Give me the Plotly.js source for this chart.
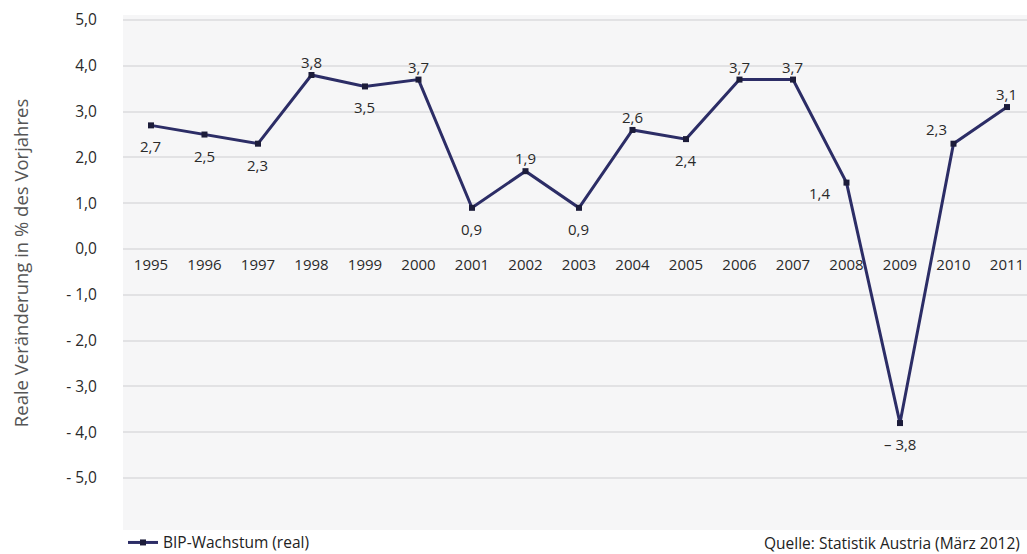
<!DOCTYPE html>
<html>
<head>
<meta charset="utf-8">
<script src="https://cdn.plot.ly/plotly-3.0.1.min.js"></script>
<style>html,body{margin:0;padding:0;background:#fff;}#chart{width:1027px;height:554px;}</style>
</head>
<body>
<div id="chart"></div>
<script>
var years = [1995,1996,1997,1998,1999,2000,2001,2002,2003,2004,2005,2006,2007,2008,2009,2010,2011];
// values as plotted in the reference (2002 point sits near 1.7 although it is labelled 1,9)
var growth = [2.7,2.5,2.3,3.8,3.55,3.7,0.9,1.7,0.9,2.6,2.4,3.7,3.7,1.45,-3.8,2.3,3.1];
var labels = ['2,7','2,5','2,3','3,8','3,5','3,7','0,9','1,9','0,9','2,6','2,4','3,7','3,7','1,4','– 3,8','2,3','3,1'];
var labelSide = ['below','below','below','above','below','above','below','above','below','above','below','above','above','belowleft','below','aboveleft','above'];
var yTickVals = [5,4,3,2,1,0,-1,-2,-3,-4,-5];
var yTickText = ['5,0','4,0','3,0','2,0','1,0','0,0','- 1,0','- 2,0','- 3,0','- 4,0','- 5,0'];
var seriesName = 'BIP-Wachstum (real)';
var yTitle = 'Reale Veränderung in % des Vorjahres';
var sourceText = 'Quelle: Statistik Austria (März 2012)';

var font = 'Open Sans, DejaVu Sans, sans-serif';
var shifts = {below: [0, -21], above: [0, 13], belowleft: [-27, -10], aboveleft: [-17, 15]};

var trace = {
  x: years, y: growth, type: 'scatter', mode: 'lines+markers',
  name: seriesName,
  line: {color: '#2c2d66', width: 3},
  marker: {symbol: 'square', size: 6, color: '#1c1c3a'},
  cliponaxis: false
};
var annotations = years.map(function (yr, i) {
  var s = shifts[labelSide[i]];
  return {x: yr, y: growth[i], xref: 'x', yref: 'y', text: labels[i], showarrow: false,
          xanchor: 'center', yanchor: 'middle', xshift: s[0], yshift: s[1],
          font: {size: 15, color: '#2a2a2a'}};
});
annotations.push(
  {text: yTitle, xref: 'paper', yref: 'paper', x: -0.114, y: 0.518, textangle: -90, showarrow: false,
   xanchor: 'center', yanchor: 'middle', font: {size: 18.5, color: '#555'}},
  {text: sourceText, xref: 'paper', yref: 'paper', x: 0.9945, y: -0.025, xanchor: 'right', yanchor: 'middle', showarrow: false,
   font: {size: 15.5, color: '#222'}}
);
var layout = {
  width: 1027, height: 554,
  margin: {l: 123, r: 0, t: 15, b: 24, autoexpand: false},
  paper_bgcolor: '#ffffff', plot_bgcolor: '#f6f6f7',
  font: {family: font, size: 15, color: '#2a2a2a'},
  showlegend: true,
  legend: {x: 0, y: -0.025, xanchor: 'left', yanchor: 'middle', bgcolor: 'rgba(0,0,0,0)', font: {size: 15.5, color: '#222'}},
  xaxis: {range: [1994.477, 2011.374], tickvals: years, tickformat: 'd', anchor: 'free', position: 0.5456,
          showgrid: false, zeroline: false, showline: false, ticks: '', ticklabelstandoff: 5,
          tickfont: {size: 15, color: '#2a2a2a'}},
  yaxis: {range: [-6.135, 5.11], tickvals: yTickVals, ticktext: yTickText, showgrid: true, gridcolor: '#e2e2e4', gridwidth: 2,
          zeroline: false, showline: false, ticks: '', ticklabelstandoff: 25, tickfont: {size: 15.5, color: '#2a2a2a'}},
  annotations: annotations
};
Plotly.newPlot('chart', [trace], layout, {displayModeBar: false, staticPlot: true});
</script>
</body>
</html>
